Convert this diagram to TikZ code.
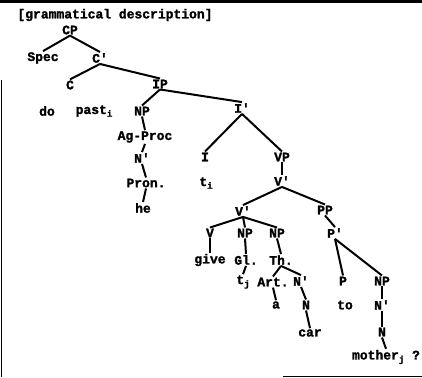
\documentclass[tikz,border=0pt]{standalone}
\usepackage{fontspec}
\newfontfamily\tw{Liberation Mono}[UprightFont={* Bold}, FakeBold=1.6]
\newcommand\sbs[1]{\raisebox{-0.4ex}{\fontsize{9}{9}\selectfont #1}}
\begin{document}
\begin{tikzpicture}[x=1pt,y=-1pt,
  lbl/.style={font=\tw\fontsize{13}{13}\selectfont, inner sep=1pt, anchor=center},
  br/.style={line width=2pt},
  frame/.style={line width=1pt}]
\useasboundingbox (0,0) rectangle (422,377);
% frame
\draw[line width=3pt] (0,1.5) -- (422,1.5);
\draw[frame] (1,80) -- (1,377);
\draw[frame] (283,376) -- (422,376);
% title
\node[lbl] (title) at (115,15) {[grammatical description]};
% nodes
\node[lbl] (CP) at (70,30) {CP};
\node[lbl] (Spec) at (43,58) {Spec};
\node[lbl] (C1) at (100,58) {C'};
\node[lbl] (C) at (70,85) {C};
\node[lbl] (IP) at (160,84) {IP};
\node[lbl] (do) at (47,111) {do};
\node[lbl] (past) at (94,111) {past\sbs{i}};
\node[lbl] (NP1) at (142,111) {NP};
\node[lbl] (Ag) at (145,137) {Ag-Proc};
\node[lbl] (N1) at (142,158) {N'};
\node[lbl] (Pron) at (146,183) {Pron.};
\node[lbl] (he) at (143,208) {he};
\node[lbl] (I1) at (242,108) {I'};
\node[lbl] (I) at (205,157) {I};
\node[lbl] (VP) at (282,157) {VP};
\node[lbl] (ti) at (206,183) {t\sbs{i}};
\node[lbl] (V1) at (282,181) {V'};
\node[lbl] (V2) at (243,211) {V'};
\node[lbl] (PP) at (325,210) {PP};
\node[lbl] (V) at (210,233) {V};
\node[lbl] (NP2) at (245,233) {NP};
\node[lbl] (NP3) at (277,233) {NP};
\node[lbl] (P1) at (335,233) {P'};
\node[lbl] (give) at (210,260) {give};
\node[lbl] (Gl) at (246,260) {Gl.};
\node[lbl] (Th) at (281,260) {Th.};
\node[lbl] (tj) at (243,282) {t\sbs{j}};
\node[lbl] (Art) at (273,282) {Art.};
\node[lbl] (N2) at (301,281) {N'};
\node[lbl] (P) at (343,281) {P};
\node[lbl] (NP4) at (382,281) {NP};
\node[lbl] (a) at (276,305) {a};
\node[lbl] (N3) at (306,305) {N};
\node[lbl] (to) at (345,305) {to};
\node[lbl] (N4) at (382,305) {N'};
\node[lbl] (car) at (310,333) {car};
\node[lbl] (N5) at (382,332) {N};
\node[lbl] (mother) at (386,357) {mother\sbs{j} ?};
% branches
\draw[br] (CP.south) -- (Spec.north);
\draw[br] (CP.south) -- (C1.north);
\draw[br] (C1.south) -- (C.north);
\draw[br] (C1.south) -- (IP.north);
\draw[br] (IP.south) -- (NP1.north);
\draw[br] (IP.south) -- (I1.north);
\draw[br] (NP1.south) -- (Ag.north);
\draw[br] (Ag.south) -- (N1.north);
\draw[br] (N1.south) -- (Pron.north);
\draw[br] (Pron.south) -- (he.north);
\draw[br] (I1.south) -- (I.north);
\draw[br] (I1.south) -- (VP.north);
\draw[br] (VP.south) -- (V1.north);
\draw[br] (V1.south) -- (V2.north);
\draw[br] (V1.south) -- (PP.north);
\draw[br] (V2.south) -- (V.north);
\draw[br] (V2.south) -- (NP2.north);
\draw[br] (V2.south) -- (NP3.north);
\draw[br] (PP.south) -- (P1.north);
\draw[br] (V.south) -- (give.north);
\draw[br] (NP2.south) -- (Gl.north);
\draw[br] (NP3.south) -- (Th.north);
\draw[br] (Gl.south) -- (tj.north);
\draw[br] (Th.south) -- (Art.north);
\draw[br] (Th.south) -- (N2.north);
\draw[br] (Art.south) -- (a.north);
\draw[br] (N2.south) -- (N3.north);
\draw[br] (N3.south) -- (car.north);
\draw[br] (P1.south) -- (P.north);
\draw[br] (P1.south) -- (NP4.north);
\draw[br] (NP4.south) -- (N4.north);
\draw[br] (N4.south) -- (N5.north);
\draw[br] (N5.south) -- (mother.north);
\end{tikzpicture}
\end{document}
